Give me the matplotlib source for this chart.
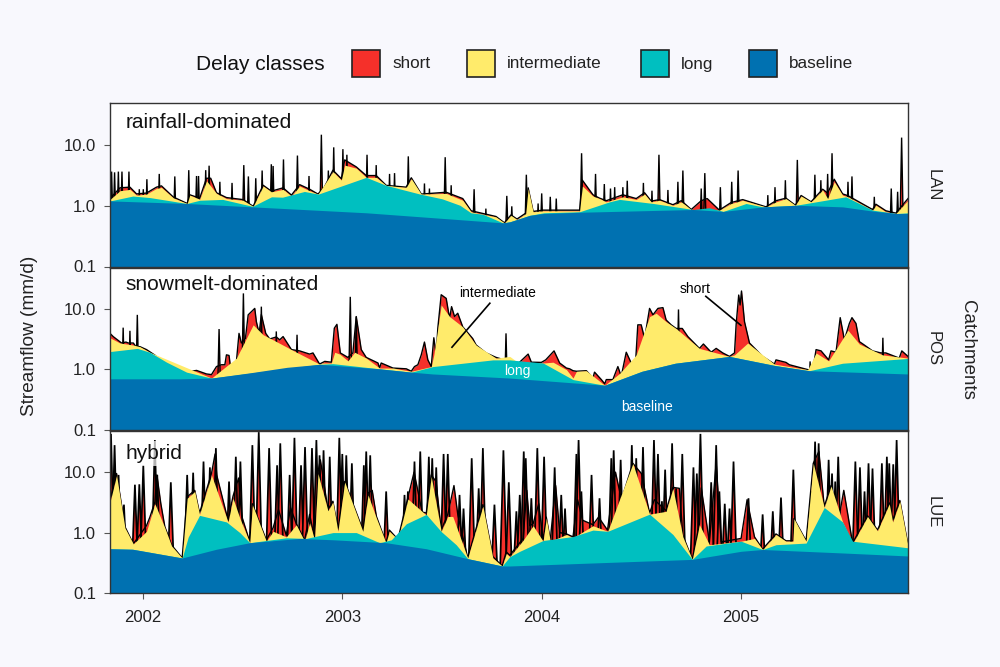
import matplotlib
matplotlib.use("Agg")
import matplotlib.pyplot as plt
from matplotlib.patches import Rectangle

plt.rcParams["font.family"] = ["Liberation Sans", "DejaVu Sans"]

# decimal years and streamflow (mm/d)
# *_ENV is the flow between storms, *_PEAK the tips of the short storm spikes
LAN_ENV_T = [2001.835, 2001.885, 2001.935, 2001.968, 2002.018, 2002.068, 2002.093, 2002.152, 2002.222, 2002.235,
    2002.285, 2002.319, 2002.34, 2002.369, 2002.419, 2002.502, 2002.553, 2002.603, 2002.644, 2002.703,
    2002.745, 2002.786, 2002.836, 2002.878, 2002.91, 2002.953, 2002.995, 2003.012, 2003.07, 2003.12,
    2003.17, 2003.22, 2003.32, 2003.346, 2003.396, 2003.521, 2003.604, 2003.646, 2003.771, 2003.813,
    2003.846, 2003.876, 2003.92, 2003.932, 2003.957, 2004.007, 2004.19, 2004.204, 2004.257, 2004.29,
    2004.324, 2004.407, 2004.474, 2004.516, 2004.549, 2004.591, 2004.658, 2004.70, 2004.75, 2004.80,
    2004.83, 2004.891, 2004.95, 2005.008, 2005.125, 2005.175, 2005.225, 2005.272, 2005.301, 2005.351,
    2005.409, 2005.434, 2005.467, 2005.509, 2005.536, 2005.659, 2005.676, 2005.726, 2005.776, 2005.837]
LAN_ENV = [1.3, 1.95, 2.0, 1.55, 1.6, 2.0, 2.1, 1.38, 1.08, 1.5,
    1.32, 2.8, 2.8, 1.62, 1.35, 1.25, 0.97, 2.15, 1.72, 1.95,
    1.48, 2.2, 1.85, 1.54, 2.0, 3.8, 2.75, 5.6, 4.3, 3.1,
    3.1, 2.14, 2.0, 2.85, 1.54, 1.65, 1.3, 0.82, 0.66, 0.52,
    0.7, 0.6, 0.75, 1.95, 0.8, 0.84, 0.84, 2.6, 1.5, 1.32,
    1.2, 1.5, 1.3, 1.62, 1.18, 1.25, 1.03, 1.2, 0.86, 1.2,
    1.3, 0.84, 1.12, 1.25, 0.95, 1.2, 1.32, 1.01, 1.46, 1.15,
    1.85, 1.6, 2.7, 1.55, 1.45, 0.86, 1.05, 0.82, 0.75, 1.3]
LAN_PEAK_T = [2001.843, 2001.858, 2001.877, 2001.895, 2001.93, 2001.982, 2002.002, 2002.02, 2002.082, 2002.16,
    2002.23, 2002.269, 2002.279, 2002.315, 2002.332, 2002.386, 2002.447, 2002.506, 2002.529, 2002.566,
    2002.598, 2002.644, 2002.653, 2002.705, 2002.775, 2002.833, 2002.895, 2002.93, 2002.957, 2003.003,
    2003.023, 2003.124, 2003.17, 2003.237, 2003.262, 2003.331, 2003.412, 2003.437, 2003.516, 2003.546,
    2003.661, 2003.72, 2003.825, 2003.85, 2003.923, 2003.982, 2004.0, 2004.043, 2004.073, 2004.2,
    2004.27, 2004.314, 2004.345, 2004.366, 2004.407, 2004.429, 2004.51, 2004.553, 2004.588, 2004.633,
    2004.683, 2004.708, 2004.80, 2004.818, 2004.896, 2004.953, 2004.985, 2005.134, 2005.17, 2005.222,
    2005.282, 2005.37, 2005.40, 2005.434, 2005.456, 2005.536, 2005.556, 2005.668, 2005.753, 2005.785,
    2005.805]
LAN_PEAK = [3.6, 3.5, 3.6, 3.6, 3.6, 1.85, 1.85, 2.7, 3.3, 3.0,
    3.8, 3.05, 3.05, 3.8, 4.5, 2.45, 2.35, 4.6, 3.0, 2.8,
    3.75, 4.75, 4.45, 5.7, 6.6, 3.05, 14.5, 3.75, 9.0, 8.4,
    6.8, 6.8, 4.6, 3.3, 3.4, 6.4, 2.3, 1.9, 6.2, 2.15,
    1.85, 0.89, 1.44, 0.97, 3.2, 1.08, 1.58, 1.39, 1.3, 7.2,
    3.3, 2.25, 1.9, 2.0, 2.0, 2.55, 2.35, 1.75, 6.8, 1.8,
    2.45, 3.75, 1.9, 3.4, 2.0, 2.45, 3.75, 1.48, 2.0, 2.6,
    5.6, 3.2, 2.6, 3.3, 7.2, 2.45, 3.0, 1.39, 1.9, 1.68,
    13.0]

LAN_INTER_T = [2001.835, 2001.885, 2001.935, 2001.968, 2002.018, 2002.068, 2002.093, 2002.152, 2002.222, 2002.235,
    2002.285, 2002.319, 2002.369, 2002.419, 2002.502, 2002.553, 2002.603, 2002.644, 2002.703, 2002.745,
    2002.786, 2002.836, 2002.878, 2002.953, 2002.995, 2003.012, 2003.07, 2003.12, 2003.17, 2003.22,
    2003.32, 2003.346, 2003.396, 2003.521, 2003.604, 2003.646, 2003.771, 2003.813, 2003.846, 2003.876,
    2003.92, 2003.932, 2003.957, 2004.007, 2004.19, 2004.204, 2004.257, 2004.29, 2004.324, 2004.407,
    2004.474, 2004.516, 2004.549, 2004.591, 2004.658, 2004.70, 2004.75, 2004.891, 2004.95, 2005.008,
    2005.125, 2005.175, 2005.225, 2005.272, 2005.301, 2005.351, 2005.409, 2005.434, 2005.467, 2005.509,
    2005.536, 2005.659, 2005.676, 2005.726, 2005.776, 2005.837]
LAN_INTER = [1.26, 1.75, 1.84, 1.48, 1.54, 1.91, 1.98, 1.34, 1.08, 1.48,
    1.27, 2.55, 1.58, 1.3, 1.22, 0.97, 2.09, 1.68, 1.84, 1.43,
    2.09, 1.75, 1.54, 3.6, 2.62, 4.6, 4.1, 2.9, 2.9, 2.14,
    1.98, 2.75, 1.54, 1.58, 1.22, 0.79, 0.65, 0.52, 0.69, 0.59,
    0.74, 1.9, 0.79, 0.82, 0.82, 2.09, 1.43, 1.3, 1.15, 1.39,
    1.26, 1.54, 1.15, 1.22, 1.01, 1.15, 0.86, 0.84, 1.08, 1.22,
    0.95, 1.15, 1.3, 1.01, 1.43, 1.15, 1.8, 1.3, 2.45, 1.48,
    1.39, 0.84, 1.01, 0.79, 0.74, 1.22]

LAN_LONG_T = [2001.835, 2001.95, 2002.035, 2002.12, 2002.22, 2002.285, 2002.40, 2002.55, 2002.645, 2002.70,
    2002.81, 2002.88, 2003.12, 2003.22, 2003.39, 2003.50, 2003.59, 2003.645, 2003.705, 2003.805,
    2003.84, 2003.89, 2003.94, 2004.01, 2004.19, 2004.34, 2004.39, 2004.56, 2004.76, 2004.84,
    2004.91, 2005.025, 2005.11, 2005.275, 2005.525, 2005.66, 2005.78, 2005.837]
LAN_LONG = [1.19, 1.43, 1.35, 1.22, 1.08, 1.22, 1.26, 0.97, 1.39, 1.37,
    1.7, 1.54, 2.9, 2.14, 1.54, 1.29, 1.01, 0.76, 0.72, 0.52,
    0.54, 0.61, 0.69, 0.76, 0.79, 1.15, 1.26, 1.08, 0.86, 0.92,
    0.8, 1.08, 0.95, 1.01, 1.39, 0.84, 0.74, 0.76]

LAN_BASE_T = [2001.835, 2002.22, 2002.55, 2003.12, 2003.805, 2003.84, 2003.89, 2003.94, 2004.01, 2004.19,
    2004.76, 2004.91, 2005.11, 2005.275, 2005.51, 2005.66, 2005.78, 2005.837]
LAN_BASE = [1.19, 1.08, 0.95, 0.76, 0.52, 0.54, 0.61, 0.69, 0.74, 0.775,
    0.86, 0.8, 0.95, 1.01, 0.95, 0.81, 0.74, 0.74]

POS_ENV_T = [2001.835, 2001.851, 2001.893, 2001.915, 2001.927, 2001.952, 2001.965, 2001.985, 2002.018, 2002.06,
    2002.11, 2002.127, 2002.144, 2002.177, 2002.227, 2002.269, 2002.319, 2002.344, 2002.369, 2002.394,
    2002.411, 2002.419, 2002.432, 2002.439, 2002.457, 2002.469, 2002.482, 2002.494, 2002.514, 2002.528,
    2002.544, 2002.561, 2002.569, 2002.583, 2002.594, 2002.616, 2002.636, 2002.669, 2002.686, 2002.703,
    2002.745, 2002.786, 2002.836, 2002.853, 2002.886, 2002.912, 2002.945, 2002.96, 2002.973, 2002.99,
    2003.028, 2003.053, 2003.07, 2003.095, 2003.12, 2003.179, 2003.187, 2003.195, 2003.254, 2003.321,
    2003.346, 2003.362, 2003.379, 2003.396, 2003.412, 2003.429, 2003.446, 2003.459, 2003.471, 2003.479,
    2003.496, 2003.521, 2003.538, 2003.548, 2003.563, 2003.579, 2003.604, 2003.654, 2003.671, 2003.721,
    2003.771, 2003.813, 2003.835, 2003.885, 2003.932, 2003.948, 2003.998, 2004.02, 2004.062, 2004.09,
    2004.124, 2004.14, 2004.157, 2004.174, 2004.224, 2004.257, 2004.265, 2004.299, 2004.316, 2004.324,
    2004.357, 2004.382, 2004.399, 2004.424, 2004.449, 2004.471, 2004.482, 2004.499, 2004.516, 2004.541,
    2004.558, 2004.583, 2004.608, 2004.624, 2004.649, 2004.674, 2004.705, 2004.733, 2004.791, 2004.811,
    2004.85, 2004.875, 2004.908, 2004.942, 2004.967, 2004.975, 2004.988, 2004.995, 2005.002, 2005.017,
    2005.042, 2005.108, 2005.167, 2005.175, 2005.225, 2005.242, 2005.334, 2005.359, 2005.376, 2005.401,
    2005.439, 2005.451, 2005.476, 2005.497, 2005.518, 2005.543, 2005.556, 2005.576, 2005.593, 2005.618,
    2005.659, 2005.701, 2005.726, 2005.793, 2005.806, 2005.837]
POS_ENV = [3.9, 3.45, 2.7, 2.8, 2.7, 2.7, 2.35, 2.35, 2.1, 1.7,
    1.21, 1.18, 1.21, 1.0, 0.9, 0.95, 0.83, 0.81, 1.1, 1.18,
    1.18, 1.72, 1.68, 1.1, 1.26, 1.34, 3.9, 2.7, 3.2, 7.9,
    8.9, 10.1, 6.1, 3.9, 8.0, 3.9, 3.15, 3.4, 3.05, 3.45,
    2.1, 2.0, 1.77, 1.85, 1.21, 1.34, 1.3, 4.75, 5.5, 1.85,
    1.56, 1.85, 7.4, 2.1, 1.56, 1.26, 1.04, 1.26, 1.04, 1.01,
    0.92, 1.1, 1.18, 1.72, 2.8, 1.42, 1.1, 3.3, 1.72, 4.75,
    17.0, 14.8, 6.9, 10.8, 7.4, 8.4, 5.0, 3.2, 2.5, 1.85,
    1.56, 1.42, 1.42, 1.26, 1.77, 1.3, 1.29, 1.42, 2.0, 1.26,
    1.04, 1.01, 0.94, 0.92, 0.94, 0.71, 0.89, 0.67, 0.57, 0.67,
    0.67, 1.1, 0.76, 1.9, 1.26, 1.34, 5.4, 5.4, 3.2, 10.1,
    7.9, 10.1, 10.4, 6.5, 5.4, 4.7, 4.7, 3.45, 2.2, 2.6,
    1.9, 2.2, 1.85, 1.62, 1.85, 5.4, 16.8, 11.5, 19.6, 6.1,
    2.7, 1.62, 1.21, 1.42, 1.29, 1.18, 0.98, 0.94, 2.1, 2.0,
    1.42, 2.0, 1.9, 7.1, 3.05, 5.7, 7.1, 5.7, 2.85, 2.5,
    2.0, 1.85, 1.85, 1.52, 2.0, 1.62]
POS_PEAK_T = [2001.901, 2001.935, 2001.972, 2002.382, 2002.504, 2002.594, 2002.669, 2002.773, 2003.04, 2003.07,
    2003.821, 2004.686, 2005.346, 2005.711]
POS_PEAK = [4.85, 4.3, 7.9, 4.6, 17.9, 10.8, 4.2, 3.7, 15.7, 7.4,
    3.9, 9.7, 1.34, 3.3]

POS_INTER_T = [2001.835, 2001.885, 2001.952, 2001.985, 2002.035, 2002.344, 2002.469, 2002.553, 2002.603, 2002.653,
    2002.745, 2002.886, 2002.90, 2002.945, 2002.962, 2002.987, 2003.028, 2003.062, 2003.12, 2003.187,
    2003.254, 2003.346, 2003.446, 2003.459, 2003.479, 2003.496, 2003.538, 2003.604, 2003.671, 2003.771,
    2003.84, 2003.885, 2004.007, 2004.057, 2004.124, 2004.157, 2004.174, 2004.224, 2004.316, 2004.391,
    2004.474, 2004.541, 2004.574, 2004.624, 2004.674, 2004.791, 2004.942, 2004.967, 2005.033, 2005.167,
    2005.334, 2005.376, 2005.439, 2005.536, 2005.593, 2005.709, 2005.837]
POS_INTER = [3.3, 2.7, 2.5, 2.35, 1.9, 0.71, 1.52, 5.4, 3.7, 3.05,
    2.1, 1.21, 1.26, 1.26, 1.9, 1.77, 1.37, 1.9, 1.52, 1.04,
    1.04, 0.92, 1.1, 1.72, 4.7, 11.5, 7.4, 5.0, 2.5, 1.52,
    1.62, 1.26, 1.26, 1.3, 0.98, 0.71, 0.92, 0.94, 0.54, 0.85,
    1.72, 7.4, 8.4, 6.1, 4.7, 2.2, 1.62, 1.72, 2.7, 1.21,
    0.98, 1.85, 1.37, 4.4, 2.6, 1.72, 1.52]

POS_LONG_T = [2001.835, 2001.972, 2002.035, 2002.119, 2002.219, 2002.344, 2002.886, 2002.953, 2003.187, 2003.346,
    2003.454, 2003.755, 2003.84, 2004.007, 2004.157, 2004.316, 2004.503, 2004.67, 2004.942, 2005.167,
    2005.342, 2005.509, 2005.837]
POS_LONG = [1.95, 2.2, 1.9, 1.3, 0.89, 0.71, 1.2, 1.23, 1.01, 0.89,
    1.1, 1.42, 1.42, 1.26, 0.67, 0.54, 0.92, 1.25, 1.62, 1.15,
    0.94, 1.25, 1.5]

POS_BASE_T = [2001.835, 2002.186, 2002.344, 2002.54, 2002.723, 2002.886, 2003.187, 2003.346, 2003.454, 2003.84,
    2004.316, 2004.503, 2004.67, 2004.942, 2005.167, 2005.342, 2005.837]
POS_BASE = [0.69, 0.69, 0.71, 0.87, 1.07, 1.2, 1.01, 0.89, 0.83, 0.71,
    0.54, 0.92, 1.25, 1.62, 1.15, 0.94, 0.83]

LUE_ENV_T = [2001.835, 2001.868, 2001.91, 2001.952, 2002.018, 2002.035, 2002.06, 2002.07, 2002.09, 2002.11,
    2002.144, 2002.197, 2002.222, 2002.26, 2002.284, 2002.344, 2002.362, 2002.37, 2002.427, 2002.452,
    2002.48, 2002.495, 2002.536, 2002.549, 2002.619, 2002.653, 2002.68, 2002.719, 2002.74, 2002.769,
    2002.811, 2002.836, 2002.861, 2002.878, 2002.89, 2002.928, 2002.953, 2002.978, 2003.012, 2003.103,
    2003.129, 2003.15, 2003.171, 2003.219, 2003.236, 2003.279, 2003.329, 2003.36, 2003.40, 2003.421,
    2003.446, 2003.47, 2003.496, 2003.529, 2003.56, 2003.58, 2003.629, 2003.705, 2003.755, 2003.802,
    2003.822, 2003.84, 2003.907, 2003.925, 2003.94, 2003.957, 2003.985, 2004.007, 2004.023, 2004.043,
    2004.07, 2004.09, 2004.124, 2004.157, 2004.18, 2004.205, 2004.257, 2004.285, 2004.33, 2004.37,
    2004.40, 2004.457, 2004.50, 2004.541, 2004.565, 2004.624, 2004.658, 2004.69, 2004.708, 2004.755,
    2004.791, 2004.80, 2004.841, 2004.875, 2004.90, 2005.0, 2005.03, 2005.067, 2005.108, 2005.175,
    2005.225, 2005.26, 2005.265, 2005.326, 2005.362, 2005.39, 2005.417, 2005.451, 2005.49, 2005.515,
    2005.559, 2005.634, 2005.684, 2005.743, 2005.76, 2005.796, 2005.837]
LUE_ENV = [3.4, 9.5, 1.25, 0.65, 1.3, 1.8, 3.2, 9.0, 3.0, 1.25,
    0.62, 0.38, 3.9, 5.0, 2.1, 9.5, 20.0, 9.0, 1.6, 4.0,
    8.0, 1.9, 0.7, 3.0, 0.75, 1.2, 2.4, 0.9, 2.6, 1.4,
    0.75, 2.0, 0.8, 10.0, 16.0, 2.4, 3.3, 1.1, 7.0, 1.1,
    4.5, 5.0, 1.85, 0.68, 1.1, 0.77, 3.8, 10.0, 2.2, 2.1,
    9.0, 7.0, 1.1, 2.0, 6.0, 1.9, 0.38, 2.9, 0.4, 0.28,
    0.48, 0.42, 0.8, 5.0, 1.3, 1.4, 3.0, 0.75, 1.8, 0.75,
    6.0, 1.0, 0.95, 0.85, 3.5, 1.6, 1.35, 1.8, 1.1, 10.0,
    3.5, 14.0, 9.5, 2.1, 3.5, 2.3, 5.6, 5.4, 0.9, 0.36,
    1.4, 5.5, 0.7, 14.0, 0.7, 0.8, 3.5, 0.85, 0.53, 0.95,
    0.73, 0.73, 1.7, 0.73, 14.0, 22.0, 2.7, 6.0, 1.7, 5.0,
    0.67, 1.9, 1.1, 3.1, 1.6, 3.4, 0.62]
LUE_PEAK_T = [2001.84, 2001.858, 2001.878, 2001.905, 2001.96, 2001.982, 2002.002, 2002.06, 2002.072, 2002.14,
    2002.222, 2002.252, 2002.304, 2002.336, 2002.366, 2002.432, 2002.466, 2002.489, 2002.549, 2002.581,
    2002.633, 2002.673, 2002.689, 2002.736, 2002.76, 2002.793, 2002.813, 2002.848, 2002.87, 2002.886,
    2002.906, 2002.937, 2002.985, 2003.0, 2003.02, 2003.048, 2003.108, 2003.12, 2003.14, 2003.22,
    2003.312, 2003.329, 2003.362, 2003.391, 2003.434, 2003.451, 2003.471, 2003.508, 2003.529, 2003.588,
    2003.608, 2003.649, 2003.684, 2003.705, 2003.763, 2003.808, 2003.835, 2003.873, 2003.89, 2003.91,
    2003.92, 2003.948, 2003.978, 2004.012, 2004.065, 2004.098, 2004.117, 2004.174, 2004.185, 2004.199,
    2004.25, 2004.29, 2004.349, 2004.361, 2004.396, 2004.424, 2004.452, 2004.474, 2004.508, 2004.563,
    2004.583, 2004.603, 2004.619, 2004.654, 2004.674, 2004.705, 2004.761, 2004.778, 2004.796, 2004.85,
    2004.875, 2004.891, 2004.918, 2004.942, 2004.962, 2005.037, 2005.108, 2005.159, 2005.2, 2005.262,
    2005.351, 2005.371, 2005.389, 2005.439, 2005.456, 2005.472, 2005.487, 2005.573, 2005.596, 2005.619,
    2005.639, 2005.659, 2005.706, 2005.731, 2005.743, 2005.763, 2005.78]
LUE_PEAK = [43.0, 28.0, 9.0, 2.9, 6.2, 6.3, 13.0, 34.0, 9.0, 6.8,
    9.0, 9.8, 15.0, 12.0, 25.0, 7.0, 18.0, 15.0, 28.0, 46.0,
    25.0, 13.0, 30.0, 9.0, 37.0, 13.0, 26.0, 25.0, 34.0, 19.0,
    23.0, 18.0, 37.0, 20.0, 19.0, 14.0, 13.0, 22.0, 19.0, 4.8,
    4.2, 4.8, 15.0, 22.0, 18.0, 17.0, 12.0, 20.0, 20.0, 4.2,
    2.5, 17.0, 5.4, 25.0, 2.9, 23.0, 6.8, 2.25, 4.2, 22.0,
    17.0, 3.7, 25.0, 18.0, 12.0, 4.2, 2.5, 20.0, 34.0, 4.8,
    9.0, 3.7, 17.0, 23.0, 16.0, 5.4, 28.0, 17.0, 26.0, 34.0,
    20.0, 3.3, 11.0, 30.0, 5.4, 20.0, 12.0, 9.5, 43.0, 6.8,
    28.0, 4.8, 3.0, 2.5, 15.0, 3.7, 2.0, 2.25, 3.8, 11.0,
    4.8, 32.0, 30.0, 16.0, 9.5, 7.0, 18.0, 15.0, 12.0, 4.8,
    14.0, 11.5, 14.0, 18.0, 14.0, 13.5, 34.0]

LUE_INTER_T = [2001.835, 2001.868, 2001.91, 2001.952, 2002.018, 2002.06, 2002.11, 2002.144, 2002.197, 2002.222,
    2002.26, 2002.284, 2002.344, 2002.427, 2002.452, 2002.486, 2002.536, 2002.549, 2002.619, 2002.653,
    2002.719, 2002.769, 2002.811, 2002.836, 2002.861, 2002.878, 2002.928, 2002.953, 2002.978, 2003.012,
    2003.103, 2003.129, 2003.171, 2003.219, 2003.236, 2003.279, 2003.329, 2003.421, 2003.446, 2003.496,
    2003.529, 2003.554, 2003.629, 2003.705, 2003.755, 2003.802, 2003.822, 2003.84, 2003.907, 2003.957,
    2004.007, 2004.023, 2004.043, 2004.124, 2004.157, 2004.257, 2004.331, 2004.457, 2004.541, 2004.624,
    2004.658, 2004.708, 2004.755, 2004.791, 2004.841, 2005.0, 2005.067, 2005.108, 2005.175, 2005.225,
    2005.26, 2005.265, 2005.326, 2005.362, 2005.417, 2005.451, 2005.509, 2005.559, 2005.634, 2005.684,
    2005.743, 2005.76, 2005.796, 2005.837]
LUE_INTER = [3.2, 8.9, 1.2, 0.65, 1.05, 3.0, 1.2, 0.6, 0.38, 3.7,
    4.8, 2.0, 8.9, 1.5, 3.7, 1.74, 0.68, 2.9, 0.72, 1.05,
    0.85, 1.35, 0.72, 1.45, 0.76, 9.5, 2.3, 3.2, 1.05, 6.9,
    1.05, 4.2, 1.74, 0.68, 1.05, 0.77, 3.6, 1.95, 8.5, 1.05,
    1.85, 1.85, 0.38, 2.75, 0.38, 0.28, 0.45, 0.4, 0.75, 1.3,
    0.72, 1.74, 0.72, 0.93, 0.82, 1.3, 1.05, 13.9, 2.02, 2.25,
    5.4, 0.85, 0.36, 1.35, 0.63, 0.72, 0.8, 0.525, 0.93, 0.72,
    0.72, 1.7, 0.72, 14.0, 2.6, 5.9, 1.5, 0.65, 1.85, 1.07,
    3.0, 1.5, 3.3, 0.6]

LUE_LONG_T = [2001.835, 2001.948, 2002.197, 2002.227, 2002.284, 2002.419, 2002.486, 2002.536, 2002.619, 2002.719,
    2002.819, 2002.953, 2003.07, 2003.187, 2003.246, 2003.321, 2003.421, 2003.496, 2003.571, 2003.629,
    2003.802, 2003.84, 2003.89, 2004.007, 2004.157, 2004.257, 2004.331, 2004.541, 2004.658, 2004.755,
    2004.825, 2005.0, 2005.108, 2005.175, 2005.326, 2005.417, 2005.509, 2005.559, 2005.837]
LUE_LONG = [0.54, 0.53, 0.38, 0.84, 1.93, 1.5, 1.0, 0.68, 0.74, 0.82,
    0.8, 1.0, 1.0, 0.68, 0.76, 1.4, 2.0, 1.04, 0.63, 0.37,
    0.28, 0.4, 0.49, 0.74, 0.86, 1.1, 1.05, 2.02, 0.93, 0.36,
    0.6, 0.72, 0.525, 0.63, 0.67, 2.6, 1.5, 0.72, 0.56]

LUE_BASE_T = [2001.835, 2001.948, 2002.197, 2002.369, 2002.536, 2002.786, 2002.953, 2003.219, 2003.421, 2003.629,
    2003.802, 2003.84, 2004.755, 2005.0, 2005.108, 2005.508, 2005.837]
LUE_BASE = [0.54, 0.53, 0.38, 0.53, 0.68, 0.8, 0.76, 0.68, 0.54, 0.37,
    0.28, 0.28, 0.36, 0.49, 0.525, 0.46, 0.41]

CLASS_NAMES = ["short", "intermediate", "long", "baseline"]
CLASS_COLORS = ["#F5302A", "#FFEB6B", "#00BFC0", "#0071B1"]
TICK_YEARS = [2002, 2003, 2004, 2005]
Y_TICKS = [0.1, 1.0, 10.0]
Y_LABELS = ["0.1", "1.0", "10.0"]

BG = "#F8F8FD"
W, H = 1000, 667


def px_axes(fig, left, top, right, bottom):
    return fig.add_axes([left / W, 1 - bottom / H, (right - left) / W, (bottom - top) / H])


def draw_panel(ax, title, title_y, code, env, peak, inter, long_, base, spike_w=0.012, spike_lw=1.0, title_box=False):
    ax.set_facecolor("white")
    ax.fill_between(env[0], 0.1, env[1], color=CLASS_COLORS[0], lw=0, zorder=1)
    # spikes sit under the yellow layer, so only the part above it shows
    for t, p in zip(peak[0], peak[1]):
        ax.fill([t - spike_w, t, t + spike_w], [0.1, p, 0.1], facecolor=CLASS_COLORS[0],
                edgecolor="black", lw=spike_lw, zorder=1.4)
    ax.fill_between(inter[0], 0.1, inter[1], color=CLASS_COLORS[1], lw=0, zorder=2)
    ax.fill_between(long_[0], 0.1, long_[1], color=CLASS_COLORS[2], lw=0, zorder=3)
    ax.fill_between(base[0], 0.1, base[1], color=CLASS_COLORS[3], lw=0, zorder=4)
    ax.plot(env[0], env[1], color="black", lw=1.0, zorder=1.5)

    ax.set_yscale("log")
    ax.set_xlim(2001.835, 2005.837)
    ax.set_ylim(0.1, 48)
    ax.set_yticks(Y_TICKS)
    ax.set_yticklabels(Y_LABELS, fontsize=12, color="#222222")
    ax.minorticks_off()
    ax.set_xticks(TICK_YEARS)
    ax.tick_params(axis="y", length=4, width=0.8, color="#555555", pad=6)
    ax.tick_params(axis="x", length=4, width=0.8, color="#555555", pad=8)
    for side in ax.spines.values():
        side.set_color("#333333")
        side.set_linewidth(1.0)
        side.set_zorder(7)

    box = dict(facecolor="white", alpha=0.7, edgecolor="none", pad=2) if title_box else None
    ax.text(0.019, title_y, title, transform=ax.transAxes, fontsize=15, color="#111111",
            va="center", ha="left", zorder=6, bbox=box)
    ax.text(1.031, 0.5, code, transform=ax.transAxes, fontsize=12, rotation=270,
            va="center", ha="center", color="#222222")


fig = plt.figure(figsize=(10, 6.67), dpi=100, facecolor=BG)

ax1 = px_axes(fig, 110, 103, 908, 266.5)
ax2 = px_axes(fig, 110, 267.5, 908, 429.5)
ax3 = px_axes(fig, 110, 431, 908, 593)

draw_panel(ax1, "rainfall-dominated", 0.882, "LAN", (LAN_ENV_T, LAN_ENV), (LAN_PEAK_T, LAN_PEAK),
           (LAN_INTER_T, LAN_INTER), (LAN_LONG_T, LAN_LONG), (LAN_BASE_T, LAN_BASE))
draw_panel(ax2, "snowmelt-dominated", 0.894, "POS", (POS_ENV_T, POS_ENV), (POS_PEAK_T, POS_PEAK),
           (POS_INTER_T, POS_INTER), (POS_LONG_T, POS_LONG), (POS_BASE_T, POS_BASE))
draw_panel(ax3, "hybrid", 0.86, "LUE", (LUE_ENV_T, LUE_ENV), (LUE_PEAK_T, LUE_PEAK),
           (LUE_INTER_T, LUE_INTER), (LUE_LONG_T, LUE_LONG), (LUE_BASE_T, LUE_BASE),
           spike_w=0.02, spike_lw=1.25, title_box=True)

ax1.tick_params(axis="x", length=0, labelbottom=False)
ax2.tick_params(axis="x", length=0, labelbottom=False)
ax3.set_xticklabels([str(y) for y in TICK_YEARS], fontsize=12, color="#222222")

# call-outs in the middle panel
ax2.text(2003.78, 18.5, "intermediate", fontsize=10, ha="center", va="center", zorder=8)
ax2.plot([2003.74, 2003.55], [12.3, 2.3], color="black", lw=1.2, zorder=8)
ax2.text(2004.768, 21, "short", fontsize=10, ha="center", va="center", zorder=8)
ax2.plot([2004.823, 2004.999], [16, 5.3], color="black", lw=1.2, zorder=8)
ax2.text(2003.88, 0.93, "long", color="white", fontsize=10, ha="center", va="center", zorder=8)
ax2.text(2004.528, 0.235, "baseline", color="white", fontsize=10, ha="center", va="center", zorder=8)

fig.text(30 / W, 1 - 336 / H, "Streamflow (mm/d)", rotation=90, fontsize=13.7, ha="center", va="center", color="#222222")
fig.text(968 / W, 1 - 350 / H, "Catchments", rotation=270, fontsize=13.5, ha="center", va="center", color="#222222")

# legend row along the top
fig.text(196 / W, 1 - 64 / H, "Delay classes", fontsize=15, ha="left", va="center", color="#111111")
swatch_x = [352, 467, 641, 749]
for name, color, x in zip(CLASS_NAMES, CLASS_COLORS, swatch_x):
    fig.patches.append(Rectangle((x / W, 1 - 77 / H), 28 / W, 27 / H, transform=fig.transFigure,
                                 facecolor=color, edgecolor="#222222", linewidth=1.2, figure=fig))
    fig.text((x + 40) / W, 1 - 64 / H, name, fontsize=12.3, ha="left", va="center", color="#222222")

fig.savefig("out.png", dpi=100, facecolor=BG)
